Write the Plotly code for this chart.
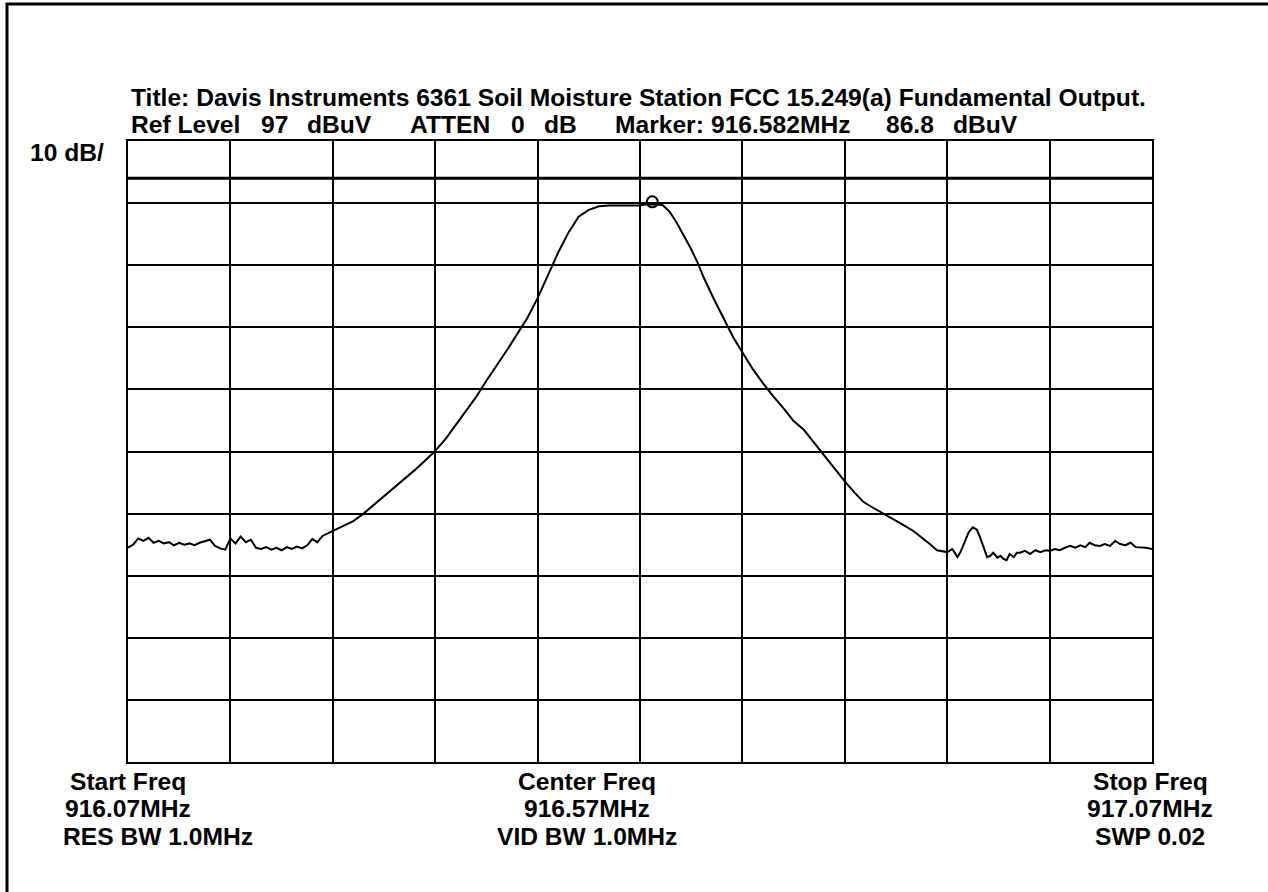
import plotly.graph_objects as go

# ---------------- data ----------------
freq_mhz = [
    916.070, 916.075, 916.080, 916.085, 916.090, 916.095, 916.100, 916.105, 916.110, 916.115,
    916.120, 916.125, 916.130, 916.135, 916.140, 916.145, 916.150, 916.155, 916.160, 916.165,
    916.170, 916.175, 916.180, 916.185, 916.190, 916.195, 916.200, 916.205, 916.210, 916.215,
    916.220, 916.225, 916.230, 916.235, 916.240, 916.245, 916.250, 916.255, 916.260, 916.265,
    916.270, 916.275, 916.280, 916.290, 916.300, 916.310, 916.320, 916.330, 916.340, 916.350,
    916.360, 916.370, 916.380, 916.390, 916.400, 916.410, 916.420, 916.430, 916.440, 916.450,
    916.460, 916.470, 916.480, 916.490, 916.500, 916.510, 916.520, 916.530, 916.540, 916.550,
    916.560, 916.570, 916.576, 916.582, 916.588, 916.592, 916.599, 916.606, 916.612, 916.619,
    916.626, 916.632, 916.642, 916.652, 916.661, 916.671, 916.680, 916.690, 916.700, 916.711,
    916.720, 916.730, 916.740, 916.750, 916.760, 916.770, 916.780, 916.788, 916.798, 916.807,
    916.817, 916.827, 916.837, 916.846, 916.853, 916.860, 916.870, 916.875, 916.880, 916.883,
    916.887, 916.891, 916.895, 916.899, 916.902, 916.906, 916.909, 916.912, 916.915, 916.919,
    916.922, 916.925, 916.928, 916.931, 916.935, 916.938, 916.941, 916.946, 916.951, 916.956,
    916.961, 916.966, 916.970, 916.975, 916.980, 916.985, 916.990, 916.995, 917.000, 917.005,
    917.009, 917.014, 917.019, 917.024, 917.029, 917.034, 917.039, 917.044, 917.049, 917.054,
    917.059, 917.064, 917.070,
]
level_dbuv = [
    31.5, 32.0, 33.0, 32.6, 33.1, 32.3, 32.6, 32.2, 32.4, 31.9,
    32.3, 32.0, 32.2, 31.9, 32.3, 32.5, 32.8, 31.8, 31.4, 31.2,
    33.0, 32.2, 33.3, 32.4, 32.8, 31.5, 31.3, 31.6, 31.2, 31.5,
    31.1, 31.6, 31.3, 31.7, 31.4, 31.9, 32.9, 32.4, 33.4, 33.8,
    34.2, 34.6, 35.0, 35.8, 37.0, 38.4, 39.8, 41.1, 42.6, 44.0,
    45.5, 47.1, 49.0, 51.2, 53.5, 55.8, 58.4, 60.8, 63.3, 65.9,
    68.5, 71.7, 75.3, 79.0, 82.2, 84.8, 85.9, 86.5, 86.6, 86.6,
    86.6, 86.6, 86.8, 86.8, 86.8, 86.7, 85.6, 83.8, 82.0, 79.9,
    77.5, 75.1, 71.6, 68.3, 65.4, 62.7, 60.3, 58.0, 55.9, 53.8,
    51.9, 50.5, 48.4, 46.4, 44.3, 42.2, 40.3, 38.9, 37.9, 37.1,
    36.1, 35.2, 34.2, 33.1, 32.1, 31.1, 30.8, 31.3, 30.0, 30.8,
    32.3, 34.0, 34.8, 34.4, 33.2, 31.5, 30.0, 30.2, 30.7, 29.9,
    30.2, 29.7, 29.5, 30.5, 30.0, 30.7, 30.7, 31.0, 30.5, 31.1,
    30.8, 31.1, 31.0, 31.3, 31.1, 31.5, 31.8, 31.5, 31.9, 31.6,
    32.3, 31.9, 31.8, 32.1, 31.8, 32.6, 32.1, 31.9, 32.3, 31.6,
    31.6, 31.5, 31.3,
]
marker_freq = 916.582
marker_level = 86.8
display_line_dbuv = 91.0

start_freq = 916.07
stop_freq = 917.07
ref_level = 97
db_per_div = 10
n_div = 10

title_text = "Title: Davis Instruments 6361 Soil Moisture Station FCC 15.249(a) Fundamental Output."
header_parts = ["Ref Level", "97", "dBuV", "ATTEN", "0", "dB", "Marker:", "916.582MHz", "86.8", "dBuV"]
left_labels = ["Start Freq", "916.07MHz", "RES BW 1.0MHz"]
center_labels = ["Center Freq", "916.57MHz", "VID BW 1.0MHz"]
right_labels = ["Stop Freq", "917.07MHz", "SWP 0.02"]
scale_label = "10 dB/"

# ---------------- layout geometry (pixels) ----------------
W, H = 1268, 892
L, R, T, B = 128, 1152, 141, 762
FONT = "Liberation Sans, Arial, DejaVu Sans, sans-serif"
FS = 24.6


def px(x):
    return (x - L) / (R - L)


def py(y):
    return (B - y) / (B - T)


fig = go.Figure()
fig.add_trace(go.Scatter(x=freq_mhz, y=level_dbuv, mode="lines",
                         line=dict(color="black", width=2), hoverinfo="skip",
                         showlegend=False))
fig.add_trace(go.Scatter(x=[marker_freq], y=[marker_level + 0.4], mode="markers",
                         marker=dict(symbol="circle-open", size=11, color="black",
                                     line=dict(width=2, color="black")),
                         showlegend=False, hoverinfo="skip"))

# display line
fig.add_shape(type="line", xref="x", yref="y", x0=start_freq, x1=stop_freq,
              y0=display_line_dbuv, y1=display_line_dbuv,
              line=dict(color="black", width=3))

# outer frame
fig.add_shape(type="rect", xref="paper", yref="paper",
              x0=px(7), x1=px(1400), y0=py(4), y1=py(1000),
              line=dict(color="black", width=3), layer="below")

ann = []


def text(s, x, y, xanchor="left"):
    ann.append(dict(text=s, x=px(x), y=py(y), xref="paper", yref="paper",
                    xanchor=xanchor, yanchor="middle", showarrow=False,
                    font=dict(family=FONT, size=FS, color="black", weight="bold")))


text(title_text, 129, 98)
header_x = [129, 259, 305, 408, 509, 542, 613, 709, 884, 951]
for s, x in zip(header_parts, header_x):
    text(s, x, 124)
text(scale_label, 28, 153)

rows_y = [781, 809, 836]
text(left_labels[0], 128, rows_y[0], "center")
text(left_labels[1], 128, rows_y[1], "center")
text(left_labels[2], 61, rows_y[2], "left")
for s, y in zip(center_labels, rows_y):
    text(s, 587, y, "center")
for s, y in zip(right_labels, rows_y):
    text(s, 1150, y, "center")

fig.update_layout(
    width=W, height=H, autosize=False,
    margin=dict(l=L, r=W - R, t=T, b=H - B, pad=0),
    paper_bgcolor="white", plot_bgcolor="white",
    annotations=ann, showlegend=False,
)
fig.update_xaxes(range=[start_freq, stop_freq], dtick=(stop_freq - start_freq) / n_div,
                 tick0=start_freq, showgrid=True, gridcolor="black", gridwidth=2,
                 showticklabels=False, ticks="", zeroline=False,
                 showline=True, linecolor="black", linewidth=2, mirror=True)
fig.update_yaxes(range=[ref_level - db_per_div * n_div, ref_level], dtick=db_per_div,
                 tick0=ref_level, showgrid=True, gridcolor="black", gridwidth=2,
                 showticklabels=False, ticks="", zeroline=False,
                 showline=True, linecolor="black", linewidth=2, mirror=True)

fig.write_html("out.html")
